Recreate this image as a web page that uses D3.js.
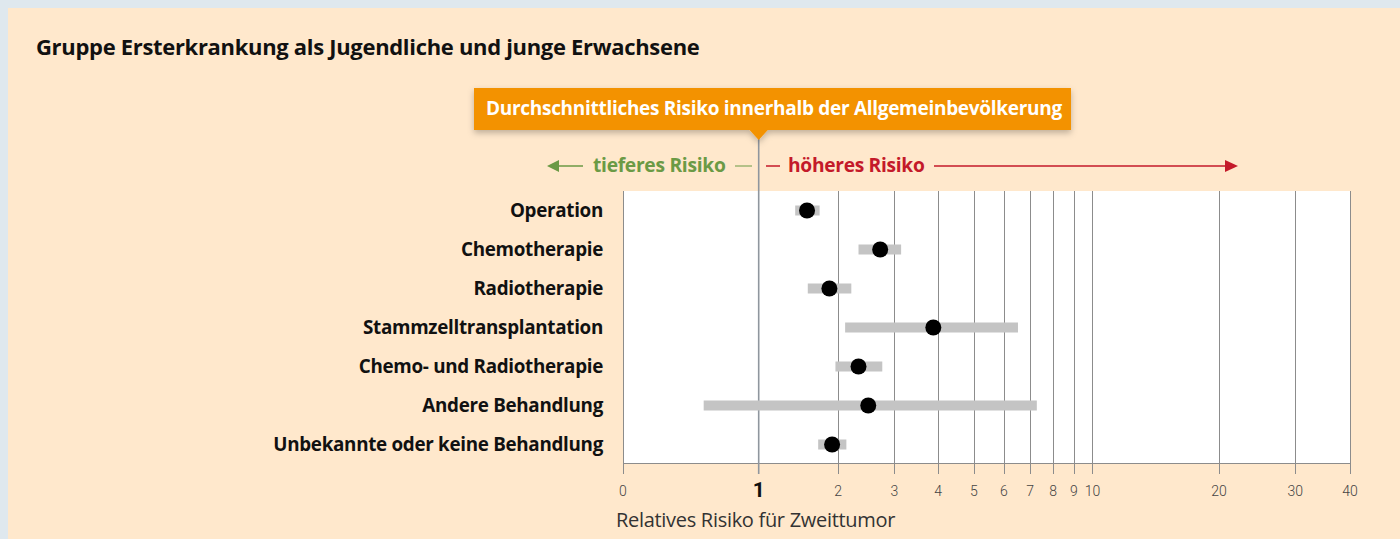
<!DOCTYPE html>
<html>
<head>
<meta charset="utf-8">
<script src="https://cdn.jsdelivr.net/npm/d3@7"></script>
<style>
  body { margin: 0; background: #dfe8ee; }
  svg { display: block; font-family: "Open Sans", Roboto, sans-serif; }
</style>
</head>
<body>
<svg id="chart" width="1400" height="539"></svg>
<script>
// data
const categories = ['Operation', 'Chemotherapie', 'Radiotherapie', 'Stammzelltransplantation',
  'Chemo- und Radiotherapie', 'Andere Behandlung', 'Unbekannte oder keine Behandlung'];
const estimate = [1.56, 2.72, 1.87, 3.88, 2.33, 2.50, 1.91];
const lower = [1.41, 2.33, 1.57, 2.11, 1.96, 0.51, 1.71];
const upper = [1.73, 3.14, 2.21, 6.52, 2.76, 7.28, 2.13];
const tickValues = [0, 1, 2, 3, 4, 5, 6, 7, 8, 9, 10, 20, 30, 40];

const svg = d3.select('#chart');

const x = d3.scaleSymlog().constant(1).domain([0, 40]).range([623, 1350]);
const y = d3.scaleBand().domain(categories).range([191, 464]);

// scale the font size so that a text reaches the given width
function fitSize(sel, target) {
  const node = sel.node();
  const fs = parseFloat(sel.style('font-size'));
  const size = fs * target / node.getComputedTextLength();
  sel.style('font-size', size + 'px');
  return size;
}

// panel
svg.append('rect').attr('width', 1400).attr('height', 539).attr('fill', '#dfe8ee');
svg.append('rect').attr('x', 8).attr('y', 8).attr('width', 1392).attr('height', 531).attr('fill', '#ffe8cc');

const title = svg.append('text')
  .attr('x', 36).attr('y', 55)
  .style('font-size', '19px').style('font-weight', 700).style('letter-spacing', '-0.3px').attr('fill', '#111')
  .text('Gruppe Ersterkrankung als Jugendliche und junge Erwachsene');
fitSize(title, 661);

// plot area
svg.append('rect')
  .attr('x', x(0)).attr('y', 191)
  .attr('width', x(40) - x(0)).attr('height', 463 - 191)
  .attr('fill', '#fff');

// grid
svg.append('g').selectAll('line')
  .data(tickValues.filter(d => d !== 1))
  .enter().append('line')
  .attr('x1', d => Math.round(x(d)) + 0.5).attr('x2', d => Math.round(x(d)) + 0.5)
  .attr('y1', 191).attr('y2', 474)
  .attr('stroke', '#8c8c8c').attr('stroke-width', 1);

// axis line
svg.append('line')
  .attr('x1', x(0)).attr('x2', x(40)).attr('y1', 463.5).attr('y2', 463.5)
  .attr('stroke', '#8c8c8c');

// reference line at 1
svg.append('line')
  .attr('x1', x(1)).attr('x2', x(1)).attr('y1', 136).attr('y2', 474)
  .attr('stroke', '#8f969e').attr('stroke-width', 1.6);

// tick labels
svg.append('g').selectAll('text')
  .data(tickValues)
  .enter().append('text')
  .attr('x', d => x(d)).attr('y', d => d === 1 ? 497 : 496)
  .attr('text-anchor', 'middle')
  .style('font-family', 'Roboto, sans-serif')
  .style('font-size', d => d === 1 ? '21px' : '14px')
  .style('font-weight', d => d === 1 ? 700 : 300)
  .attr('fill', d => d === 1 ? '#111' : '#444')
  .text(d => d);

const axTitle = svg.append('text')
  .attr('x', 616).attr('y', 527)
  .style('font-size', '16px').style('font-weight', 400).style('letter-spacing', '-0.3px').attr('fill', '#333')
  .text('Relatives Risiko für Zweittumor');
fitSize(axTitle, 277);

// row labels
const rowLabels = svg.append('g').selectAll('text')
  .data(categories)
  .enter().append('text')
  .attr('x', 603).attr('y', d => y(d) + y.bandwidth() / 2 + 6)
  .attr('text-anchor', 'end')
  .style('font-size', '17px').style('font-weight', 700).style('letter-spacing', '-0.3px').attr('fill', '#111')
  .text(d => d);
const rowSize = fitSize(rowLabels.filter((d, i) => i === 6), 329);
rowLabels.style('font-size', rowSize + 'px');

// confidence bars
svg.append('g').selectAll('rect')
  .data(categories)
  .enter().append('rect')
  .attr('x', (d, i) => x(lower[i]))
  .attr('width', (d, i) => x(upper[i]) - x(lower[i]))
  .attr('y', d => y(d) + y.bandwidth() / 2 - 5)
  .attr('height', 10)
  .attr('fill', '#c4c4c4');

// estimates
svg.append('g').selectAll('circle')
  .data(categories)
  .enter().append('circle')
  .attr('cx', (d, i) => x(estimate[i]))
  .attr('cy', d => y(d) + y.bandwidth() / 2)
  .attr('r', 8)
  .attr('fill', '#000');

// callout
const defs = svg.append('defs');
const f = defs.append('filter').attr('id', 'shadow').attr('x', '-10%').attr('y', '-30%').attr('width', '120%').attr('height', '180%');
f.append('feDropShadow').attr('dx', 0).attr('dy', 3).attr('stdDeviation', 3).attr('flood-color', '#000').attr('flood-opacity', 0.25);

const cx1 = x(1);
const callout = svg.append('g').attr('filter', 'url(#shadow)');
callout.append('rect')
  .attr('x', 474).attr('y', 88).attr('width', 597).attr('height', 42)
  .attr('fill', '#f39200');
callout.append('path')
  .attr('d', `M${cx1 - 10},129 L${cx1 + 10},129 L${cx1},140 Z`)
  .attr('fill', '#f39200');
const calloutText = svg.append('text')
  .attr('x', 486).attr('y', 115)
  .style('font-size', '17px').style('font-weight', 700).style('letter-spacing', '-0.3px').attr('fill', '#fff')
  .text('Durchschnittliches Risiko innerhalb der Allgemeinbevölkerung');
fitSize(calloutText, 574);

// direction arrows
const green = '#6b9a45', red = '#c41a2a';
const ay = 166;
svg.append('line').attr('x1', 556).attr('x2', 583).attr('y1', ay).attr('y2', ay).attr('stroke', green).attr('stroke-width', 1.5);
svg.append('path').attr('d', `M547,${ay} L559,${ay - 6} L559,${ay + 6} Z`).attr('fill', green);
const lowText = svg.append('text').attr('x', 593).attr('y', ay + 6)
  .style('font-size', '17px').style('font-weight', 700).style('letter-spacing', '-0.3px').attr('fill', green)
  .text('tieferes Risiko');
fitSize(lowText, 132);
svg.append('line').attr('x1', 735).attr('x2', 752).attr('y1', ay).attr('y2', ay).attr('stroke', green).attr('stroke-width', 1);

svg.append('line').attr('x1', 766).attr('x2', 780).attr('y1', ay).attr('y2', ay).attr('stroke', red).attr('stroke-width', 1.5);
const highText = svg.append('text').attr('x', 788).attr('y', ay + 6)
  .style('font-size', '17px').style('font-weight', 700).style('letter-spacing', '-0.3px').attr('fill', red)
  .text('höheres Risiko');
fitSize(highText, 136);
svg.append('line').attr('x1', 934).attr('x2', 1226).attr('y1', ay).attr('y2', ay).attr('stroke', red).attr('stroke-width', 1.5);
svg.append('path').attr('d', `M1238,${ay} L1225,${ay - 6} L1225,${ay + 6} Z`).attr('fill', red);
</script>
</body>
</html>
